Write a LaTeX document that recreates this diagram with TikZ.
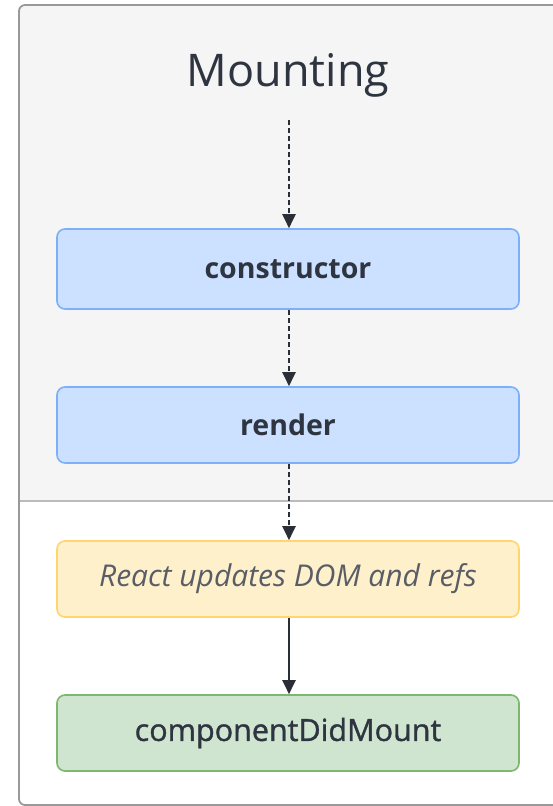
\documentclass[tikz,border=0pt]{standalone}
\usepackage{fontspec}
\setmainfont{Open Sans}
\newfontfamily\semib[FakeBold=1.2]{Open Sans}
\usetikzlibrary{arrows.meta}
\definecolor{bggray}{HTML}{F5F5F5}
\definecolor{framegray}{HTML}{999999}
\definecolor{divgray}{HTML}{BBBBBB}
\definecolor{txt}{HTML}{2E3440}
\definecolor{bluefill}{HTML}{CCE0FF}
\definecolor{blueline}{HTML}{7EB0FA}
\definecolor{yelfill}{HTML}{FFF0CC}
\definecolor{yelline}{HTML}{FFD66E}
\definecolor{grnfill}{HTML}{D0E5CF}
\definecolor{grnline}{HTML}{7DB86E}
\definecolor{arrowc}{HTML}{2A2E36}
\tikzset{
  stagebox/.style={draw, line width=1.6pt, rounded corners=8pt, minimum width=462pt, inner sep=0pt, text=txt, font=\fontsize{28.5}{34}\selectfont\bfseries},
  bluebox/.style={stagebox, fill=bluefill, draw=blueline},
  yelbox/.style={stagebox, fill=yelfill, draw=yelline, font=\fontsize{30}{36}\selectfont\itshape, text=txt!80},
  grnbox/.style={stagebox, fill=grnfill, draw=grnline, font=\fontsize{30.5}{36}\semib},
  flow/.style={draw=arrowc, line width=2pt, -{Triangle[length=14pt,width=13pt]}},
  dflow/.style={flow, dash pattern=on 5pt off 3pt},
}
\begin{document}
\begin{tikzpicture}[x=1pt,y=-1pt]
\useasboundingbox (0,0) rectangle (552,806);
% frame
\begin{scope}
  \clip[rounded corners=6pt] (19,5) rectangle (600,805);
  \fill[white] (19,5) rectangle (600,805);
  \fill[bggray] (19,5) rectangle (600,501);
  \draw[divgray, line width=1.6pt] (19,501) -- (600,501);
\end{scope}
\draw[framegray, line width=1.8pt, rounded corners=6pt] (19,5) rectangle (600,805);
% title
\node[text=txt, font=\fontsize{45}{54}\selectfont, anchor=base] (title) at (288,86) {Mounting};
\coordinate (tstart) at (289,120);
% boxes
\node[bluebox, minimum height=80pt] (ctor) at (288,269) {constructor};
\node[bluebox, minimum height=76pt] (render) at (288,425) {render};
\node[yelbox, minimum height=76pt] (dom) at (288,579) {React updates DOM and refs};
\node[grnbox, minimum height=76pt] (cdm) at (288,733) {componentDidMount};
% arrows
\draw[dflow] (tstart) -- (tstart |- ctor.north);
\draw[dflow] (ctor.south -| tstart) -- (render.north -| tstart);
\draw[dflow] (render.south -| tstart) -- (dom.north -| tstart);
\draw[flow] (dom.south -| tstart) -- (cdm.north -| tstart);
\end{tikzpicture}
\end{document}
